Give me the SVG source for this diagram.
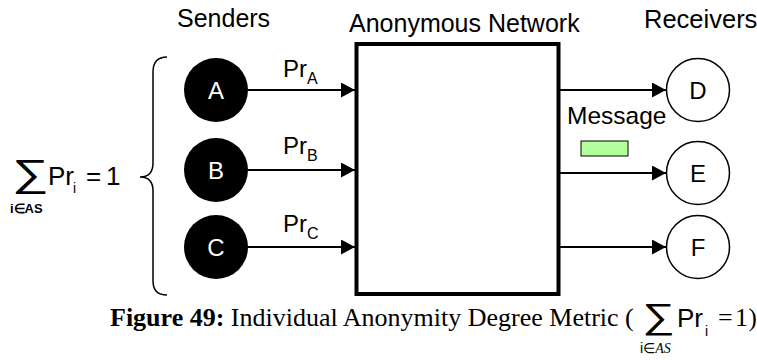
<svg xmlns="http://www.w3.org/2000/svg" width="757" height="360" viewBox="0 0 757 360">
<defs>
<style>
.sans{font-family:"Liberation Sans",Arial,sans-serif;fill:#000}
.serif{font-family:"Liberation Serif","Times New Roman",serif;fill:#000}
.hdr{font-size:25px}
.pr{font-size:24px}
.sub{font-size:16px}
.snode{fill:#000}
.slabel{font-family:"Liberation Sans",Arial,sans-serif;font-size:24px;fill:#fff;text-anchor:middle}
.rnode{fill:#fff;stroke:#000;stroke-width:1.5}
.rlabel{font-family:"Liberation Sans",Arial,sans-serif;font-size:24px;fill:#000;text-anchor:middle}
.edge{stroke:#000;stroke-width:2;fill:none}
</style>
<marker id="arr" viewBox="0 0 14 15" refX="14" refY="7.5" markerWidth="14" markerHeight="15" markerUnits="userSpaceOnUse" orient="auto">
<path d="M0,0 L14,7.5 L0,15 Z" fill="#000"/>
</marker>
</defs>
<rect width="757" height="360" fill="#fff"/>

<!-- headers -->
<text class="sans hdr" x="177" y="27">Senders</text>
<text class="sans hdr" x="349" y="32">Anonymous Network</text>
<text class="sans" x="644" y="28" font-size="25.5">Receivers</text>

<!-- left formula -->
<g id="sum-left">
<text class="sans" transform="translate(12,186) scale(1.35,1)" x="0" y="0" font-size="38">∑</text>
<text class="sans" x="48" y="185" font-size="26">Pr</text>
<text class="sans" x="73" y="193" font-size="14">i</text>
<text class="sans" x="86" y="185" font-size="26">=</text>
<text class="sans" x="106" y="185" font-size="26">1</text>
<text class="sans" x="10" y="213" font-size="13" font-weight="bold">i∈AS</text>
</g>
<path id="brace" d="M167,57 Q153,57 153,72 L153,163 Q153,177 140,177 Q153,177 153,191 L153,281 Q153,295 167,295" fill="none" stroke="#000" stroke-width="1.5"/>

<!-- connectors -->
<g id="connectors">
<line class="edge" x1="248" y1="90" x2="355" y2="90" marker-end="url(#arr)"/>
<line class="edge" x1="248" y1="170" x2="355" y2="170" marker-end="url(#arr)"/>
<line class="edge" x1="248" y1="247" x2="355" y2="247" marker-end="url(#arr)"/>
<line class="edge" x1="560" y1="90" x2="666" y2="90" marker-end="url(#arr)"/>
<line class="edge" x1="560" y1="173" x2="666" y2="173" marker-end="url(#arr)"/>
<line class="edge" x1="560" y1="247" x2="666" y2="247" marker-end="url(#arr)"/>
<text class="sans pr" x="283" y="77">Pr<tspan class="sub" dy="7">A</tspan></text>
<text class="sans pr" x="283" y="154">Pr<tspan class="sub" dy="7">B</tspan></text>
<text class="sans pr" x="283" y="232">Pr<tspan class="sub" dy="7">C</tspan></text>
</g>

<!-- network -->
<g id="network">
<rect x="356.5" y="44" width="202" height="250" fill="#fff" stroke="#000" stroke-width="4"/>
</g>

<!-- senders -->
<g id="node-A"><circle class="snode" cx="216" cy="90" r="32"/><text class="slabel" x="216" y="99">A</text></g>
<g id="node-B"><circle class="snode" cx="216" cy="170" r="32"/><text class="slabel" x="216" y="179">B</text></g>
<g id="node-C"><circle class="snode" cx="216" cy="247" r="32"/><text class="slabel" x="216" y="256">C</text></g>

<!-- receivers -->
<g id="node-D"><circle class="rnode" cx="698" cy="90" r="31.5"/><text class="rlabel" x="698" y="99">D</text></g>
<g id="node-E"><circle class="rnode" cx="698" cy="173" r="31.5"/><text class="rlabel" x="698" y="182">E</text></g>
<g id="node-F"><circle class="rnode" cx="698" cy="247" r="31.5"/><text class="rlabel" x="698" y="256">F</text></g>

<!-- message -->
<g id="message">
<text class="sans" x="567" y="124" font-size="24.5">Message</text>
<rect x="581" y="141" width="47" height="15" fill="#b3ff99" stroke="#000" stroke-width="1"/>
</g>

<!-- caption -->
<g id="caption">
<text class="serif" x="110" y="326" font-size="26"><tspan font-weight="bold">Figure 49:</tspan> Individual Anonymity Degree Metric (</text>
<text class="sans" transform="translate(642,328) scale(1.3,1)" x="0" y="0" font-size="35">∑</text>
<text class="sans" x="677" y="327" font-size="26">Pr</text>
<text class="sans" x="705" y="336" font-size="14">i</text>
<text class="serif" x="718" y="326" font-size="26">=</text>
<text class="serif" x="735" y="326" font-size="26">1</text>
<text class="serif" x="748.5" y="326" font-size="25">)</text>
<text x="640" y="353" font-size="14"><tspan class="sans">i∈</tspan><tspan class="serif" font-style="italic">AS</tspan></text>
</g>
</svg>
